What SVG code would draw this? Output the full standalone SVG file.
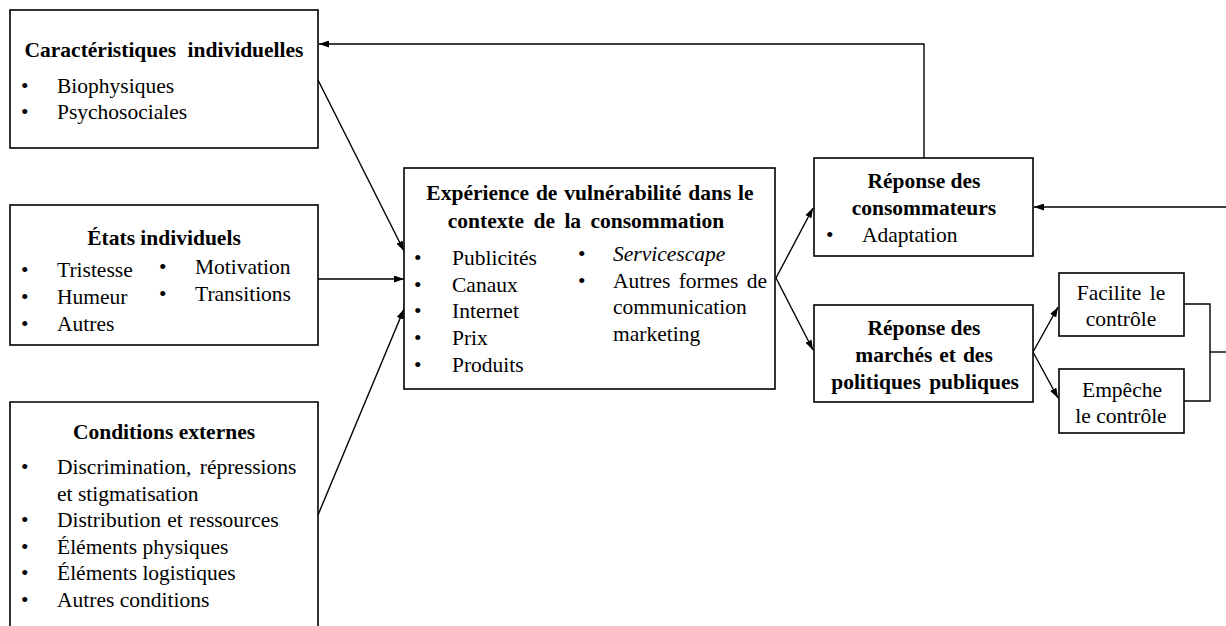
<svg xmlns="http://www.w3.org/2000/svg" width="1226" height="626" viewBox="0 0 1226 626">
  <style>
    .box { fill: #fff; stroke: #000; stroke-width: 1.6; }
    .t { font-family: "Liberation Serif", "Times New Roman", serif; font-size: 21.5px; fill: #000; }
    .b { font-weight: bold; }
    .c { text-anchor: middle; }
    .i { font-style: italic; }
    .ln { fill: none; stroke: #000; stroke-width: 1.4; }
  </style>
  <defs>
    <marker id="arr" viewBox="0 0 10 7" refX="10" refY="3.5" markerWidth="10" markerHeight="7" markerUnits="userSpaceOnUse" orient="auto">
      <path d="M0,0 L10,3.5 L0,7 z" fill="#000"/>
    </marker>
  </defs>

  <rect width="1226" height="626" fill="#fff"/>

  <!-- connectors -->
  <g id="connectors">
    <line class="ln" x1="318" y1="80" x2="404" y2="251" marker-end="url(#arr)"/>
    <line class="ln" x1="318" y1="279" x2="404" y2="279" marker-end="url(#arr)"/>
    <line class="ln" x1="318" y1="515" x2="404" y2="309" marker-end="url(#arr)"/>
    <line class="ln" x1="776" y1="278" x2="813" y2="208" marker-end="url(#arr)"/>
    <line class="ln" x1="776" y1="278" x2="813" y2="350" marker-end="url(#arr)"/>
    <polyline class="ln" points="924,158 924,44 319,44" marker-end="url(#arr)"/>
    <line class="ln" x1="1226" y1="207" x2="1034" y2="207" marker-end="url(#arr)"/>
    <line class="ln" x1="1033" y1="352" x2="1058" y2="307" marker-end="url(#arr)"/>
    <line class="ln" x1="1033" y1="352" x2="1058" y2="398" marker-end="url(#arr)"/>
    <polyline class="ln" points="1184,304 1210,304 1210,401 1184,401"/>
    <line class="ln" x1="1210" y1="352" x2="1226" y2="352"/>
  </g>

  <!-- individual characteristics -->
  <g id="caracteristiques">
    <rect class="box" x="10" y="10" width="308" height="138"/>
    <text class="t b c" x="164" y="57" word-spacing="6">Caractéristiques individuelles</text>
    <text class="t" x="21" y="93">•</text>
    <text class="t" x="57" y="93">Biophysiques</text>
    <text class="t" x="21" y="119">•</text>
    <text class="t" x="57" y="119">Psychosociales</text>
  </g>

  <!-- individual states -->
  <g id="etats">
    <rect class="box" x="10" y="205" width="308" height="140"/>
    <text class="t b c" x="164" y="245">États individuels</text>
    <text class="t" x="21" y="277">•</text>
    <text class="t" x="57" y="277">Tristesse</text>
    <text class="t" x="21" y="304">•</text>
    <text class="t" x="57" y="304">Humeur</text>
    <text class="t" x="21" y="331">•</text>
    <text class="t" x="57" y="331">Autres</text>
    <text class="t" x="159" y="274">•</text>
    <text class="t" x="195" y="274">Motivation</text>
    <text class="t" x="159" y="301">•</text>
    <text class="t" x="195" y="301">Transitions</text>
  </g>

  <!-- external conditions -->
  <g id="conditions">
    <path class="box" d="M10,630 V402 H318 V630"/>
    <text class="t b c" x="164" y="439">Conditions externes</text>
    <text class="t" x="21" y="474">•</text>
    <text class="t" x="57" y="474" word-spacing="3">Discrimination, répressions</text>
    <text class="t" x="57" y="501">et stigmatisation</text>
    <text class="t" x="21" y="527">•</text>
    <text class="t" x="57" y="527" word-spacing="1">Distribution et ressources</text>
    <text class="t" x="21" y="554">•</text>
    <text class="t" x="57" y="554">Éléments physiques</text>
    <text class="t" x="21" y="580">•</text>
    <text class="t" x="57" y="580">Éléments logistiques</text>
    <text class="t" x="21" y="607">•</text>
    <text class="t" x="57" y="607">Autres conditions</text>
  </g>

  <!-- consumption vulnerability experience -->
  <g id="experience">
    <rect class="box" x="404" y="168" width="371" height="221"/>
    <text class="t b c" x="590" y="200" word-spacing="1.5">Expérience de vulnérabilité dans le</text>
    <text class="t b c" x="586" y="228" word-spacing="4">contexte de la consommation</text>
    <text class="t" x="414" y="265">•</text>
    <text class="t" x="452" y="265">Publicités</text>
    <text class="t" x="414" y="292">•</text>
    <text class="t" x="452" y="292">Canaux</text>
    <text class="t" x="414" y="318">•</text>
    <text class="t" x="452" y="318">Internet</text>
    <text class="t" x="414" y="345">•</text>
    <text class="t" x="452" y="345">Prix</text>
    <text class="t" x="414" y="372">•</text>
    <text class="t" x="452" y="372">Produits</text>
    <text class="t" x="578" y="261">•</text>
    <text class="t i" x="613" y="261">Servicescape</text>
    <text class="t" x="578" y="288">•</text>
    <text class="t" x="613" y="288" word-spacing="3">Autres formes de</text>
    <text class="t" x="613" y="314">communication</text>
    <text class="t" x="613" y="341">marketing</text>
  </g>

  <!-- consumer response -->
  <g id="reponse-consommateurs">
    <rect class="box" x="814" y="158" width="219" height="98"/>
    <text class="t b c" x="924" y="188">Réponse des</text>
    <text class="t b c" x="924" y="215">consommateurs</text>
    <text class="t" x="826" y="242">•</text>
    <text class="t" x="862" y="242">Adaptation</text>
  </g>

  <!-- market and public policy response -->
  <g id="reponse-marches">
    <rect class="box" x="814" y="305" width="219" height="97"/>
    <text class="t b c" x="924" y="335">Réponse des</text>
    <text class="t b c" x="924" y="362" word-spacing="1.5">marchés et des</text>
    <text class="t b c" x="925" y="389" word-spacing="3">politiques publiques</text>
  </g>

  <g id="facilite">
    <rect class="box" x="1059" y="273" width="125" height="63"/>
    <text class="t c" x="1121" y="300" word-spacing="3">Facilite le</text>
    <text class="t c" x="1121" y="326">contrôle</text>
  </g>

  <g id="empeche">
    <rect class="box" x="1059" y="369" width="125" height="64"/>
    <text class="t c" x="1122" y="397">Empêche</text>
    <text class="t c" x="1121" y="423">le contrôle</text>
  </g>
</svg>
